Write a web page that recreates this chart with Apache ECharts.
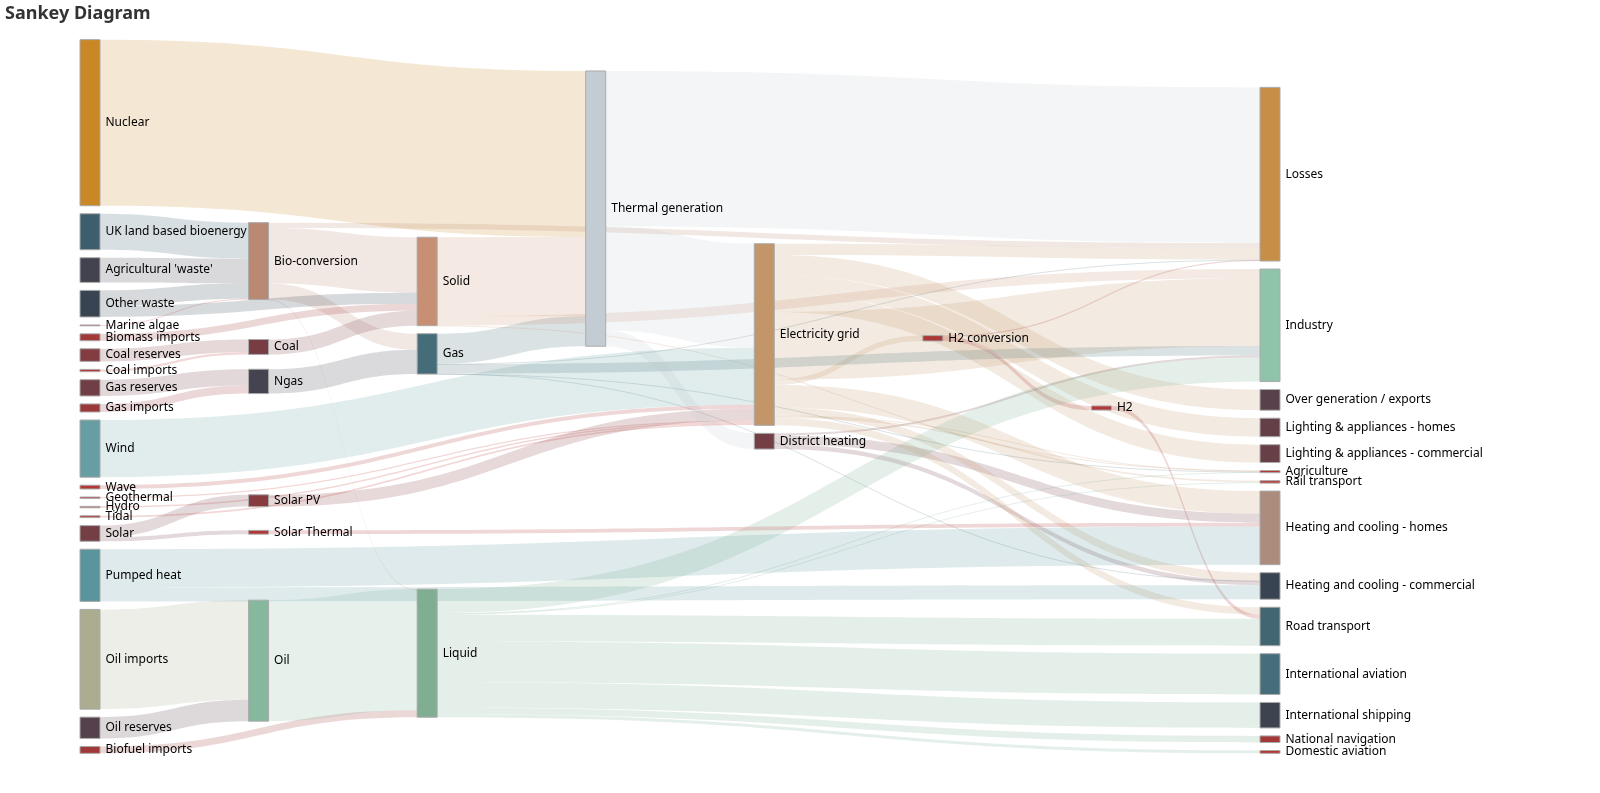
<!DOCTYPE html>
<html>
<head>
<meta charset="utf-8">
<script src="https://cdn.jsdelivr.net/npm/echarts@6/dist/echarts.min.js"></script>
<style>
html,body{margin:0;padding:0;background:#fff;}
#main{width:1600px;height:793px;}
</style>
</head>
<body>
<div id="main"></div>
<script>
const nodeNames = [
  "Agricultural 'waste'", "Bio-conversion", "Liquid", "Losses", "Solid", "Gas",
  "Biofuel imports", "Biomass imports", "Coal imports", "Coal", "Coal reserves",
  "District heating", "Industry", "Heating and cooling - commercial",
  "Heating and cooling - homes", "Electricity grid", "Over generation / exports",
  "H2 conversion", "Road transport", "Agriculture", "Rail transport",
  "Lighting & appliances - commercial", "Lighting & appliances - homes",
  "Gas imports", "Ngas", "Gas reserves", "Thermal generation", "Geothermal",
  "H2", "Hydro", "International shipping", "Domestic aviation",
  "International aviation", "National navigation", "Marine algae", "Nuclear",
  "Oil imports", "Oil", "Oil reserves", "Other waste", "Pumped heat", "Solar PV",
  "Solar Thermal", "Solar", "Tidal", "UK land based bioenergy", "Wave", "Wind"
];
const linkSources = [0,1,1,1,1,6,7,8,10,9,11,11,11,15,15,15,15,15,15,15,15,15,15,15,23,25,5,5,5,5,5,27,17,17,28,29,2,2,2,2,2,2,2,2,34,24,35,36,38,37,39,39,40,40,41,42,43,43,4,4,4,26,26,26,44,45,46,47];
const linkTargets = [1,2,3,4,5,2,4,9,9,4,12,13,14,16,14,17,12,18,19,13,3,20,21,22,24,24,13,3,26,19,12,15,28,3,18,15,12,30,18,31,32,19,33,20,1,5,26,37,37,2,4,1,14,13,15,14,42,41,19,26,12,15,3,11,15,1,15,15];
const linkValues = [124.729,0.597,26.862,280.322,81.144,35,35,11.606,63.965,75.571,10.639,22.505,46.184,104.453,113.726,27.14,342.165,37.797,4.412,40.858,56.691,7.863,90.008,93.494,40.719,82.233,0.129,1.401,151.891,2.096,48.58,7.013,20.897,6.242,20.897,6.995,121.066,128.69,135.835,14.458,206.267,3.64,33.218,4.413,4.375,122.952,839.978,504.287,107.703,611.99,56.587,77.81,193.026,70.672,59.901,19.263,19.263,59.901,0.882,400.12,46.477,525.531,787.129,79.329,9.452,182.01,19.013,289.366];
const palette = ['#c23531','#2f4554','#61a0a8','#d48265','#91c7ae','#749f83','#ca8622','#bda29a','#6e7074','#546570','#c4ccd3'];

// Vertical node placement following the classic (ECharts 3/4) sankey relaxation,
// whose column groups were ordered by their string keys.
function classicSankeyDepths(W, H, nodeWidth, gap, iterations) {
  const N = nodeNames.map((n, i) => ({ i, inE: [], outE: [], value: 0, depth: 0, y: 0, dy: 0 }));
  linkSources.forEach((s, k) => {
    const e = { s: N[s], t: N[linkTargets[k]], v: linkValues[k] };
    e.s.outE.push(e); e.t.inE.push(e);
  });
  N.forEach(n => {
    n.value = Math.max(n.inE.reduce((a, e) => a + e.v, 0), n.outE.reduce((a, e) => a + e.v, 0));
  });
  let changed = true;
  while (changed) {
    changed = false;
    N.forEach(n => n.outE.forEach(e => { if (e.t.depth < n.depth + 1) { e.t.depth = n.depth + 1; changed = true; } }));
  }
  const maxDepth = Math.max(...N.map(n => n.depth));
  N.forEach(n => { if (!n.outE.length) n.depth = maxDepth; });
  const kx = (W - nodeWidth) / maxDepth;
  const groups = new Map();
  N.forEach(n => { const key = String(n.depth * kx); if (!groups.has(key)) groups.set(key, []); groups.get(key).push(n); });
  const keys = [...groups.keys()].sort((a, b) => a < b ? -1 : a > b ? 1 : 0);
  const cols = keys.map(k => groups.get(k));
  let ky = Infinity;
  cols.forEach(ns => { const s = ns.reduce((a, n) => a + n.value, 0); ky = Math.min(ky, (H - (ns.length - 1) * gap) / s); });
  cols.forEach(ns => ns.forEach((n, i) => { n.y = i; n.dy = n.value * ky; }));
  const center = n => n.y + n.dy / 2;
  function resolve() {
    cols.forEach(ns => {
      ns.sort((a, b) => a.y - b.y);
      let y0 = 0, n;
      for (let i = 0; i < ns.length; i++) { n = ns[i]; const d = y0 - n.y; if (d > 0) n.y += d; y0 = n.y + n.dy + gap; }
      let d = y0 - gap - H;
      if (d > 0) {
        n.y -= d; y0 = n.y;
        for (let i = ns.length - 2; i >= 0; i--) { n = ns[i]; d = n.y + n.dy + gap - y0; if (d > 0) n.y -= d; y0 = n.y; }
      }
    });
  }
  resolve();
  for (let alpha = 1; iterations > 0; iterations--) {
    alpha *= 0.99;
    cols.slice().reverse().forEach(ns => ns.forEach(n => {
      if (n.outE.length) { const y = n.outE.reduce((a, e) => a + center(e.t) * e.v, 0) / n.outE.reduce((a, e) => a + e.v, 0); n.y += (y - center(n)) * alpha; }
    }));
    resolve();
    cols.forEach(ns => ns.forEach(n => {
      if (n.inE.length) { const y = n.inE.reduce((a, e) => a + center(e.s) * e.v, 0) / n.inE.reduce((a, e) => a + e.v, 0); n.y += (y - center(n)) * alpha; }
    }));
    resolve();
  }
  return N.map(n => n.y / H);
}

const el = document.getElementById('main');
const chart = echarts.init(el);
const layoutW = el.clientWidth * 0.75, layoutH = el.clientHeight * 0.9;
const localY = classicSankeyDepths(layoutW, layoutH, 20, 8, 32);

const nodes = nodeNames.map((n, i) => ({ name: n, localY: localY[i] }));
const links = linkSources.map((s, i) => ({ source: s, target: linkTargets[i], value: linkValues[i] }));

chart.setOption({
  animation: false,
  color: palette,
  title: {
    text: 'Sankey Diagram',
    left: 0, top: 0,
    textStyle: { color: '#333', fontSize: 18, fontWeight: 'bold', fontFamily: 'Noto Sans' }
  },
  series: [{
    type: 'sankey',
    color: palette,
    data: nodes,
    links: links,
    left: '5%', right: '20%', top: '5%', bottom: '5%',
    nodeWidth: 20, nodeGap: 8,
    layoutIterations: 32,
    itemStyle: { borderWidth: 1, borderColor: '#aaa' },
    lineStyle: { color: 'source', curveness: 0.5, opacity: 0.2 },
    label: { show: true, position: 'right', color: '#000', fontSize: 12, fontFamily: 'Noto Sans' }
  }]
});
</script>
</body>
</html>
